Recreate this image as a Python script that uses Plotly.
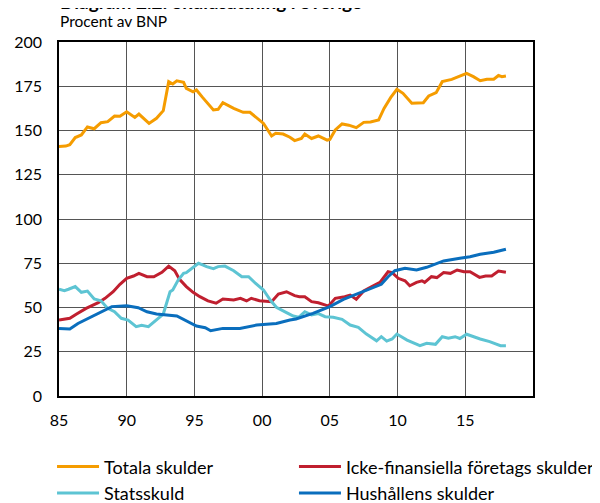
import plotly.graph_objects as go

# ---- Data (x in decimal years) ----
tot_x = [1985.0, 1985.5, 1985.8, 1986.2, 1986.65, 1987.1, 1987.6, 1988.1, 1988.6, 1989.1, 1989.5,
         1990.0, 1990.6, 1990.9, 1991.65, 1992.2, 1992.7, 1993.1, 1993.4, 1993.7, 1994.2, 1994.4,
         1994.9, 1995.15, 1995.6, 1996.4, 1996.75, 1997.1, 1997.9, 1998.6, 1999.1, 2000.1, 2000.7,
         2001.0, 2001.55, 2002.05, 2002.4, 2002.9, 2003.15, 2003.65, 2004.15, 2004.8, 2005.0,
         2005.4, 2005.9, 2006.4, 2006.95, 2007.5, 2008.0, 2008.6, 2009.0, 2009.5, 2009.95, 2010.4,
         2011.05, 2011.9, 2012.3, 2012.85, 2013.3, 2014.0, 2014.5, 2015.1, 2015.6, 2016.1, 2016.6,
         2017.1, 2017.45, 2017.7, 2018.0]
tot_y = [141, 141.2, 142, 146, 147.5, 152, 151, 154.4, 155, 158.2, 158,
         160.6, 157.4, 159.3, 154, 156.9, 161.2, 177.6, 176.3, 178.1, 177.2, 173.8,
         171.9, 172.9, 168.7, 161.6, 162, 165.7, 162.5, 160.3, 160.3, 154, 146.9,
         148.4, 148, 146.2, 144.3, 145.5, 148, 145.5, 146.9, 144.6, 145,
         150.3, 153.7, 153, 151.6, 154.6, 154.8, 155.9, 162.5, 168.7, 173.3, 171,
         165.4, 165.7, 169.5, 171.4, 177.6, 178.9, 180.4, 182.3, 180.4, 178.1, 179,
         179, 181.1, 180.4, 180.8]

ick_x = [1985.0, 1985.8, 1986.3, 1987.0, 1987.9, 1988.4, 1989.0, 1989.5, 1990.0, 1990.5, 1990.9,
         1991.5, 1992.0, 1992.6, 1993.1, 1993.55, 1993.9, 1994.4, 1994.9, 1995.4, 1996.0, 1996.6,
         1997.1, 1997.9, 1998.4, 1998.85, 1999.2, 1999.8, 2000.7, 2001.2, 2001.8, 2002.4, 2002.75,
         2003.15, 2003.65, 2004.15, 2004.9, 2005.4, 2006.1, 2006.5, 2006.95, 2007.5, 2008.1,
         2008.7, 2009.3, 2009.6, 2010.05, 2010.55, 2010.9, 2011.4, 2011.8, 2012.0, 2012.5, 2012.9,
         2013.4, 2013.9, 2014.4, 2014.9, 2015.35, 2016.05, 2016.5, 2016.95, 2017.45, 2018.0]
ick_y = [42.9, 43.9, 46.3, 49.5, 52.7, 55.2, 58.9, 63.1, 66.5, 67.8, 69.3,
         67.4, 67.4, 69.9, 73.4, 70.8, 65.9, 61.8, 58.6, 56.1, 53.7, 52.4,
         54.8, 54.2, 55.2, 53.7, 55.2, 53.8, 53.3, 57.6, 58.9, 56.7, 56.1,
         56.1, 53.3, 52.7, 50.8, 55.2, 56.1, 57, 54.6, 59.3, 61.8,
         64.2, 70.2, 69.7, 66.5, 65.1, 62.3, 64.2, 65.1, 64.2, 67.4, 66.9,
         69.7, 69.3, 71.2, 70.2, 70.2, 67.0, 67.8, 67.8, 70.6, 69.9]

sta_x = [1985.0, 1985.4, 1985.7, 1986.2, 1986.65, 1987.1, 1987.6, 1988.1, 1988.6, 1989.1, 1989.6,
         1990.1, 1990.7, 1991.1, 1991.6, 1992.2, 1992.7, 1993.2, 1993.4, 1993.8, 1994.2, 1994.4,
         1994.8, 1995.3, 1995.65, 1995.9, 1996.4, 1996.75, 1997.25, 1997.9, 1998.5, 1999.0, 1999.5,
         2000.1, 2000.6, 2001.05, 2001.8, 2002.3, 2002.7, 2003.15, 2003.65, 2004.15, 2004.65,
         2005.25, 2005.9, 2006.5, 2007.1, 2007.7, 2008.45, 2008.8, 2009.2, 2009.6, 2009.95, 2010.7,
         2011.65, 2012.15, 2012.8, 2013.3, 2013.75, 2014.25, 2014.6, 2015.1, 2016.1, 2016.8,
         2017.6, 2018.0]
sta_y = [60.3, 59.5, 60.3, 61.8, 58.6, 59.3, 54.8, 53.8, 49.5, 47.6, 43.9,
         42.9, 39.2, 40, 39.2, 43.3, 46.3, 58.9, 59.9, 65.5, 69.3, 69.7,
         72.1, 75, 74, 73.1, 71.9, 73.1, 73.4, 70.8, 67.4, 67.4, 63.7,
         59.9, 54.2, 50.1, 47.1, 45.2, 44.5, 47.6, 45.8, 46.6, 44.8,
         44.5, 43.3, 40.1, 38.8, 35, 31.2, 33.5, 31, 32.2, 35, 31.6,
         28.4, 29.8, 29.2, 33.5, 32.7, 33.5, 32.5, 34.9, 32.2, 30.7,
         28.4, 28.4]

hus_x = [1985.0, 1985.8, 1986.4, 1987.0, 1988.0, 1988.9, 1990.0, 1990.85, 1991.5, 1992.2, 1993.7,
         1994.4, 1995.15, 1995.8, 1996.2, 1997.1, 1998.35, 1999.6, 2001.05, 2002.05, 2002.5,
         2003.75, 2005.0, 2006.0, 2007.0, 2008.0, 2008.8, 2009.3, 2009.8, 2010.55, 2011.4,
         2012.15, 2013.4, 2014.6, 2015.35, 2016.1, 2017.1, 2018.0]
hus_y = [38.2, 37.8, 41, 43.3, 46.7, 50.5, 51, 49.9, 47.6, 46.3, 45.2,
         42.5, 39.5, 38.6, 36.9, 38.2, 38.2, 40.1, 41, 42.9, 43.5,
         46.7, 50.5, 54.6, 57.6, 60.3, 63.1, 67.4, 70.8, 72.1, 71.2,
         72.7, 76.3, 77.8, 78.7, 80.1, 81.2, 82.9]

tick_years = [1985, 1990, 1995, 2000, 2005, 2010, 2015]
tick_labels = ["85", "90", "95", "00", "05", "10", "15"]
y_ticks = [0, 25, 50, 75, 100, 125, 150, 175, 200]

FONT = "Lato"
fig = go.Figure()
series = [
    ("Totala skulder", tot_x, tot_y, "#F59C00", "legend"),
    ("Icke-finansiella företags skulder", ick_x, ick_y, "#C01F2F", "legend2"),
    ("Statsskuld", sta_x, sta_y, "#5DC4D3", "legend"),
    ("Hushållens skulder", hus_x, hus_y, "#0A6EBD", "legend2"),
]
for name, xs, ys, col, lg in series:
    fig.add_trace(go.Scatter(x=xs, y=ys, mode="lines", name=name, legend=lg,
                             line=dict(color=col, width=3)))

leg_common = dict(orientation="v", yanchor="top", xanchor="left", font=dict(size=18),
                  tracegroupgap=0, itemwidth=42, bgcolor="rgba(0,0,0,0)")

fig.update_layout(
    width=600, height=503,
    margin=dict(l=51, r=75, t=34, b=115, autoexpand=False),
    paper_bgcolor="white", plot_bgcolor="white",
    font=dict(family=FONT, size=16, color="#000000"),
    showlegend=True,
    legend=dict(x=-0.0147, y=-0.148, **leg_common),
    legend2=dict(x=0.4957, y=-0.148, **leg_common),
    xaxis=dict(range=[1985, 2020], tickvals=tick_years, ticktext=tick_labels,
               showgrid=True, gridcolor="#555555", gridwidth=1,
               showline=True, linecolor="black", linewidth=1.5, mirror=True,
               ticks="", zeroline=False, ticklabelstandoff=9, automargin=False),
    yaxis=dict(range=[0, 200], tickvals=y_ticks,
               showgrid=True, gridcolor="#555555", gridwidth=1,
               showline=True, linecolor="black", linewidth=1.5, mirror=True,
               ticks="", zeroline=False, ticklabelstandoff=12, automargin=False),
    annotations=[
        dict(text="<b>Diagram 2.2: Skuldsättning i Sverige</b>", xref="paper", yref="paper",
             x=-0.002, y=1.075, xanchor="left", yanchor="bottom", showarrow=False,
             font=dict(size=19, family=FONT)),
        dict(text="Procent av BNP", xref="paper", yref="paper",
             x=-0.002, y=1.060, xanchor="left", yanchor="middle", showarrow=False,
             font=dict(size=15.5, family=FONT)),
    ],
)

fig.write_html("out.html")
